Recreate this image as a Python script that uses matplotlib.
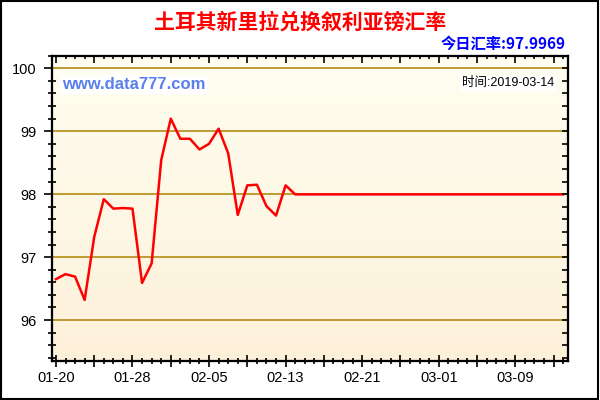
import numpy as np
import pandas as pd
import matplotlib
matplotlib.use("Agg")
import matplotlib.pyplot as plt
import matplotlib.dates as mdates
from matplotlib.ticker import MultipleLocator

plt.rcParams['font.family'] = ['Liberation Sans', 'Noto Sans CJK SC', 'DejaVu Sans']

title = "土耳其新里拉兑换叙利亚镑汇率"
today_rate = "今日汇率:97.9969"
site = "www.data777.com"
stamp = "时间:2019-03-14"

dates = pd.date_range("2019-01-20", "2019-03-14", freq="D")
rates = [96.65, 96.73, 96.69, 96.32, 97.32, 97.92, 97.77, 97.78, 97.77, 96.59,
         96.90, 98.54, 99.20, 98.88, 98.88, 98.71, 98.80, 99.04, 98.65, 97.67,
         98.14, 98.15, 97.81, 97.66, 98.14, 97.9969,
         97.9969, 97.9969, 97.9969, 97.9969, 97.9969, 97.9969, 97.9969, 97.9969,
         97.9969, 97.9969, 97.9969, 97.9969, 97.9969, 97.9969, 97.9969, 97.9969,
         97.9969, 97.9969, 97.9969, 97.9969, 97.9969, 97.9969, 97.9969, 97.9969,
         97.9969, 97.9969, 97.9969, 97.9969]
y_ticks = [96, 97, 98, 99, 100]
x_major = pd.date_range("2019-01-20", "2019-03-14", freq="4D")
x_label_dates = pd.date_range("2019-01-20", "2019-03-09", freq="8D")

fig = plt.figure(figsize=(6, 4), dpi=100)
fig.patch.set_facecolor("white")
# outer black border
fig.add_artist(plt.Rectangle((0.002, 0.003), 0.995, 0.994, transform=fig.transFigure,
                             fill=False, edgecolor="black", linewidth=1.5))

ax = fig.add_axes([0.0862, 0.0975, 0.8605, 0.7633])
x0 = mdates.date2num(pd.Timestamp("2019-01-20")) - 0.44
x1 = mdates.date2num(pd.Timestamp("2019-01-20")) + 53.51
ylo, yhi = 95.35, 100.2
ax.set_xlim(x0, x1)
ax.set_ylim(ylo, yhi)

# background gradient, light cream at top to warmer cream at bottom
grad = np.linspace(0, 1, 256).reshape(-1, 1)
top_c = np.array([1.0, 0.996, 0.945])
bot_c = np.array([0.992, 0.945, 0.855])
img = top_c + (bot_c - top_c) * grad
ax.imshow(img[:, None, :].repeat(2, axis=1), extent=[x0, x1, ylo, yhi],
          origin="upper", aspect="auto", zorder=0)

for y in y_ticks:
    ax.axhline(y, color="#B08000", linewidth=1.1, zorder=1)

ax.plot(mdates.date2num(dates), rates, color="#FF0000", linewidth=1.8, zorder=3)

ax.set_xticks(mdates.date2num(x_major))
ax.set_xticklabels([d.strftime("%m-%d") if d in x_label_dates else "" for d in x_major],
                   fontsize=10.5)
ax.xaxis.set_minor_locator(mdates.DayLocator())
ax.set_yticks(y_ticks)
ax.set_yticklabels([str(v) for v in y_ticks], fontsize=10.5)
ax.yaxis.set_minor_locator(MultipleLocator(0.2))

ax.tick_params(axis="x", which="major", direction="inout", length=9, width=1.2, pad=3)
ax.tick_params(axis="x", which="minor", direction="inout", length=5, width=1.2)
ax.tick_params(axis="y", which="major", direction="out", length=6, width=1.2, pad=5)
ax.tick_params(axis="y", which="minor", direction="inout", length=6, width=1.2)

# right and top ticks point into the plot
axr = ax.twinx()
axr.set_ylim(ylo, yhi)
axr.set_yticks(y_ticks)
axr.set_yticklabels([])
axr.yaxis.set_minor_locator(MultipleLocator(0.2))
axr.tick_params(axis="y", which="both", direction="in", length=4, width=1.2)
axt = ax.twiny()
axt.set_xlim(x0, x1)
axt.set_xticks(mdates.date2num(x_major))
axt.set_xticklabels([])
axt.xaxis.set_minor_locator(mdates.DayLocator())
axt.tick_params(axis="x", which="major", direction="in", length=5, width=1.2)
axt.tick_params(axis="x", which="minor", direction="in", length=2.5, width=1.2)

for a in (ax, axr, axt):
    for s in a.spines.values():
        s.set_linewidth(1.5)
        s.set_color("black")

ax.text(0.02, 0.904, site, transform=ax.transAxes, fontsize=12, fontweight="bold",
        color="#5B7FEB", va="center", ha="left",
        bbox=dict(facecolor="white", edgecolor="none", pad=1.5), zorder=4)
ax.text(0.973, 0.91, stamp, transform=ax.transAxes, fontsize=9, color="black",
        va="center", ha="right",
        bbox=dict(facecolor="white", edgecolor="none", pad=1.5), zorder=4)

fig.text(0.5, 0.945, title, fontsize=15, fontweight="bold", color="#FF0000",
         ha="center", va="center", family=['Noto Sans CJK SC', 'DejaVu Sans'])
fig.text(0.943, 0.89, today_rate, fontsize=11, fontweight="bold", color="#0000FF",
         ha="right", va="center", family=['Noto Sans CJK SC', 'DejaVu Sans'])

fig.savefig("out.png", dpi=100)
